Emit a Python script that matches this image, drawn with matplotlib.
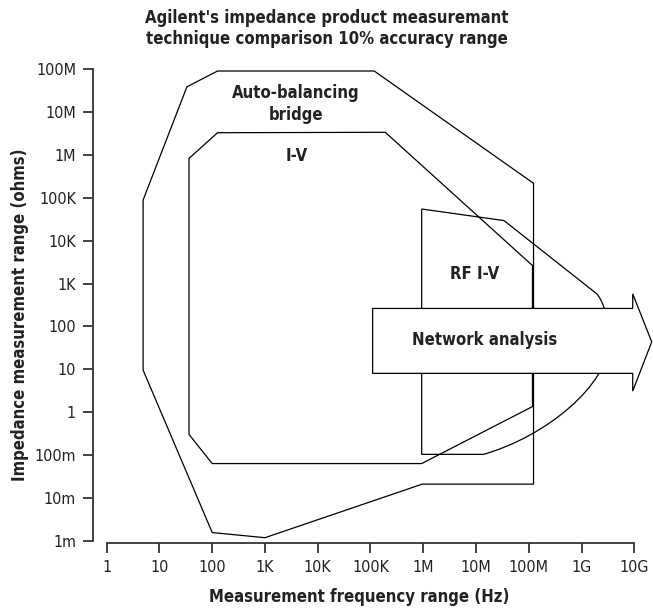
import matplotlib
matplotlib.use("Agg")
import matplotlib.pyplot as plt
import numpy as np
from matplotlib.patches import Polygon, PathPatch
from matplotlib.path import Path

plt.rcParams["font.family"] = ["DejaVu Sans"]
plt.rcParams["font.stretch"] = "condensed"

# axis decades (log10)
FREQ_EXP = list(range(0, 11))
FREQ_LABELS = ["1", "10", "100", "1K", "10K", "100K", "1M", "10M", "100M", "1G", "10G"]
IMP_EXP = list(range(-3, 9))
IMP_LABELS = ["1m", "10m", "100m", "1", "10", "100", "1K", "10K", "100K", "1M", "10M", "100M"]

# region outlines, log10(Hz) / log10(ohm)
ABB_F = [0.69, 1.52, 2.10, 5.07, 8.09, 8.09, 5.98, 3.00, 2.00, 0.69]
ABB_Z = [4.95, 7.59, 7.96, 7.96, 5.34, -1.68, -1.68, -2.93, -2.81, 0.98]

IV_F = [1.56, 2.10, 5.28, 8.07, 8.07, 5.97, 2.00, 1.56]
IV_Z = [5.92, 6.52, 6.53, 3.42, 0.13, -1.20, -1.20, -0.52]

# RF I-V: straight part, then two cubic curve segments back to the floor
RF_F = [5.97, 5.97, 7.53, 9.29, 9.41, 9.53, 9.52, 9.52, 8.31, 7.14]
RF_Z = [-0.985, 4.74, 4.47, 2.76, 2.59, 2.15, 1.66, 0.63, -0.58, -0.985]

# network analysis arrow
NA_F = [5.04, 9.97, 9.97, 10.33, 9.97, 9.97, 5.04]
NA_Z = [2.42, 2.42, 2.76, 1.64, 0.49, 0.905, 0.905]

TEXT = "#222222"

fig = plt.figure(figsize=(6.53, 6.10), dpi=100)
ax = fig.add_axes([106.7 / 653, 69.3 / 610, 527.6 / 653, 471.4 / 610])
ax.set_xscale("log")
ax.set_yscale("log")
ax.set_xlim(1, 1e10)
ax.set_ylim(1e-3, 1e8)

for s in ("top", "right"):
    ax.spines[s].set_visible(False)
ax.spines["left"].set_position(("outward", 9.9))
ax.spines["bottom"].set_position(("outward", 1.4))
for s in ("left", "bottom"):
    ax.spines[s].set_linewidth(1.3)
    ax.spines[s].set_color("#333333")

ax.set_xticks([10.0 ** e for e in FREQ_EXP])
ax.set_xticklabels(FREQ_LABELS)
ax.set_yticks([10.0 ** e for e in IMP_EXP])
ax.set_yticklabels(IMP_LABELS)
ax.minorticks_off()
ax.tick_params(direction="out", length=7.2, width=1.3, color="#333333",
               labelsize=11.5, labelcolor=TEXT, pad=5)

line_kw = dict(fill=False, edgecolor="black", linewidth=0.9)

ax.add_patch(Polygon(np.column_stack([10.0 ** np.array(ABB_F), 10.0 ** np.array(ABB_Z)]),
                     closed=True, **line_kw))
ax.add_patch(Polygon(np.column_stack([10.0 ** np.array(IV_F), 10.0 ** np.array(IV_Z)]),
                     closed=True, **line_kw))

rf_verts = np.column_stack([10.0 ** np.array(RF_F), 10.0 ** np.array(RF_Z)])
rf_codes = [Path.MOVETO, Path.LINETO, Path.LINETO, Path.LINETO,
            Path.CURVE4, Path.CURVE4, Path.CURVE4,
            Path.CURVE4, Path.CURVE4, Path.CURVE4]
rf_path = Path(np.vstack([rf_verts, rf_verts[:1]]), rf_codes + [Path.CLOSEPOLY])
ax.add_patch(PathPatch(rf_path, **line_kw))

ax.add_patch(Polygon(np.column_stack([10.0 ** np.array(NA_F), 10.0 ** np.array(NA_Z)]),
                     closed=True, facecolor="white", edgecolor="black",
                     linewidth=0.9, zorder=5, clip_on=False))

lbl = dict(ha="center", va="center", fontsize=12, fontweight="bold", color=TEXT)
ax.text(10 ** 3.59, 10 ** 7.19, "Auto-balancing\nbridge", linespacing=1.3, **lbl)
ax.text(10 ** 3.60, 10 ** 5.98, "I-V", **lbl)
ax.text(10 ** 6.98, 10 ** 3.22, "RF I-V", **lbl)
ax.text(10 ** 7.17, 10 ** 1.68, "Network analysis", zorder=6, **lbl)

fig.text(327 / 653, 1 - 28.5 / 610,
         "Agilent's impedance product measuremant\ntechnique comparison 10% accuracy range",
         ha="center", va="center", fontsize=12, fontweight="bold", color=TEXT,
         linespacing=1.15)
fig.text(359 / 653, 1 - 597 / 610, "Measurement frequency range (Hz)",
         ha="center", va="center", fontsize=12, fontweight="bold", color=TEXT)
fig.text(20 / 653, 1 - 315 / 610, "Impedance measurement range (ohms)",
         ha="center", va="center", rotation=90, fontsize=12, fontweight="bold", color=TEXT)

fig.savefig("out.png", dpi=100)
